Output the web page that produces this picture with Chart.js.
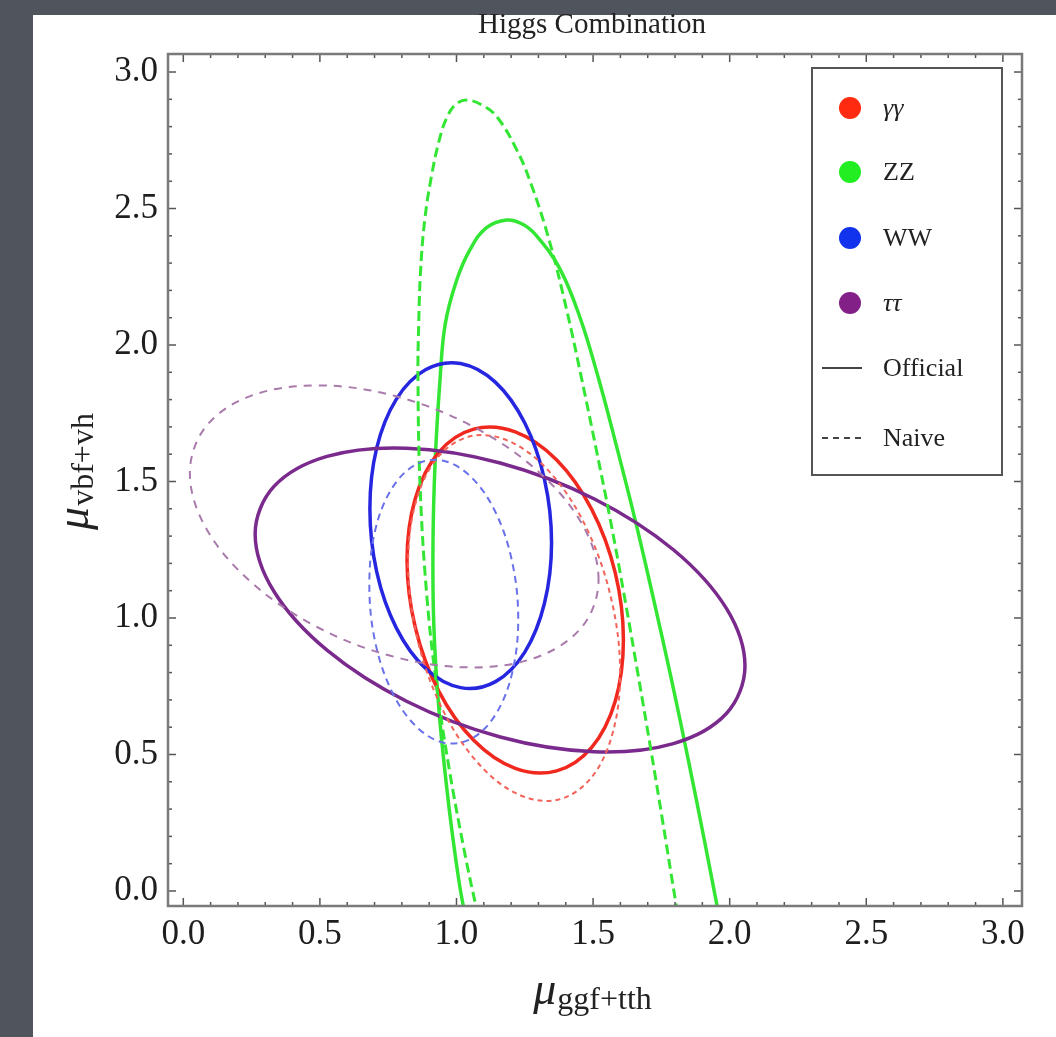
<!DOCTYPE html>
<html>
<head>
<meta charset="utf-8">
<title>Higgs Combination</title>
<script src="https://cdn.jsdelivr.net/npm/chart.js@4.4.1/dist/chart.umd.min.js"></script>
<style>
  html, body { margin: 0; padding: 0; background: #50545c; }
  #wrap { width: 1056px; height: 1037px; }
</style>
</head>
<body>
<div id="wrap"><canvas id="chart" width="1056" height="1037"></canvas></div>
<script>
// frame range (Mathematica pads a bit past 0 and 3)
const xRange = [-0.056, 3.07];
const yRange = [-0.055, 3.066];
const tickLabels = ['0.0', '0.5', '1.0', '1.5', '2.0', '2.5', '3.0'];
const legendLabels = ['γγ', 'ZZ', 'WW', 'ττ', 'Official', 'Naive'];

// contours as [mu_ggf+tth, mu_vbf+vh]
const zzNaive = [[1.105,-0.2],[1.07,-0.05],[1.028,0.15],[0.972,0.455],[0.926,0.762],[0.892,1.074],[0.867,1.476],[0.859,1.877],[0.862,2.09],[0.869,2.28],[0.884,2.46],[0.908,2.616],[0.937,2.751],[0.966,2.836],[0.999,2.883],[1.04,2.897],[1.095,2.878],[1.148,2.836],[1.221,2.714],[1.273,2.59],[1.341,2.378],[1.403,2.13],[1.458,1.877],[1.511,1.62],[1.564,1.355],[1.618,1.06],[1.668,0.773],[1.711,0.52],[1.752,0.272],[1.804,-0.05],[1.83,-0.2]];
const zzOfficial = [[1.06,-0.2],[1.024,-0.05],[0.998,0.112],[0.965,0.372],[0.935,0.673],[0.917,0.974],[0.914,1.275],[0.922,1.576],[0.94,1.877],[0.959,2.078],[1.001,2.238],[1.05,2.35],[1.11,2.43],[1.184,2.458],[1.241,2.443],[1.294,2.399],[1.379,2.278],[1.453,2.098],[1.52,1.877],[1.584,1.636],[1.655,1.355],[1.72,1.075],[1.787,0.774],[1.85,0.473],[1.91,0.172],[1.953,-0.05],[1.985,-0.216]];
const aaOfficial = [[1.611,0.919],[1.581,1.166],[1.495,1.398],[1.367,1.579],[1.215,1.682],[1.063,1.692],[0.934,1.606],[0.849,1.437],[0.819,1.212],[0.849,0.966],[0.934,0.734],[1.063,0.552],[1.215,0.449],[1.367,0.44],[1.495,0.526],[1.581,0.695]];
const aaNaive = [[1.599,0.799],[1.569,1.059],[1.485,1.31],[1.36,1.513],[1.211,1.639],[1.063,1.668],[0.937,1.595],[0.853,1.431],[0.823,1.201],[0.853,0.941],[0.937,0.69],[1.063,0.487],[1.211,0.361],[1.36,0.332],[1.485,0.405],[1.569,0.569]];
const wwOfficial = [[1.348,1.276],[1.322,1.508],[1.25,1.714],[1.143,1.863],[1.015,1.932],[0.888,1.91],[0.78,1.802],[0.708,1.623],[0.683,1.401],[0.708,1.169],[0.78,0.963],[0.888,0.814],[1.015,0.745],[1.143,0.767],[1.25,0.875],[1.322,1.054]];
const wwNaive = [[1.226,0.997],[1.205,1.2],[1.146,1.381],[1.057,1.513],[0.953,1.576],[0.849,1.561],[0.76,1.469],[0.701,1.315],[0.681,1.122],[0.701,0.919],[0.76,0.738],[0.849,0.606],[0.953,0.543],[1.057,0.559],[1.146,0.651],[1.205,0.804]];
const ttOfficial = [[2.056,0.824],[1.988,1.035],[1.794,1.25],[1.503,1.437],[1.16,1.568],[0.817,1.622],[0.526,1.592],[0.332,1.482],[0.263,1.308],[0.332,1.097],[0.526,0.882],[0.817,0.695],[1.16,0.564],[1.503,0.51],[1.794,0.54],[1.988,0.65]];
const ttNaive = [[1.52,1.14],[1.463,1.338],[1.301,1.535],[1.059,1.702],[0.772,1.814],[0.486,1.852],[0.243,1.812],[0.081,1.699],[0.024,1.531],[0.081,1.333],[0.243,1.136],[0.486,0.969],[0.772,0.858],[1.059,0.819],[1.301,0.859],[1.463,0.972]];

const RED = '#f0281e', GREEN = '#33e633', BLUE = '#2626e0', PURPLE = '#7a2a8c';
const SERIF = "'Liberation Serif', 'Times New Roman', serif";

// closed loops: wrap one point each side and hide the two wrap segments
function curve(pts, color, width, dash, closed) {
  let data = pts.map(([x, y]) => ({ x, y }));
  const n = data.length;
  if (closed) data = [data[n - 1], ...data, data[0], data[1]];
  return {
    data,
    borderColor: color,
    borderWidth: width,
    borderDash: dash,
    showLine: true,
    pointRadius: 0,
    tension: closed ? 0.35 : 0.4,
    segment: closed ? {
      borderColor: ctx => (ctx.p0DataIndex === 0 || ctx.p0DataIndex === n + 1) ? 'rgba(0,0,0,0)' : undefined
    } : {}
  };
}

const datasets = [
  curve(ttNaive, '#a97aab', 2, [8, 7], true),
  curve(wwNaive, '#6a72ea', 2, [7, 5], true),
  curve(aaNaive, '#f2645a', 2, [5, 4], true),
  curve(zzNaive, GREEN, 3, [10, 5], false),
  curve(ttOfficial, PURPLE, 3.5, [], true),
  curve(wwOfficial, BLUE, 3.5, [], true),
  curve(aaOfficial, RED, 3.5, [], true),
  curve(zzOfficial, GREEN, 3.5, [], false),
];

function line(c, x1, y1, x2, y2) {
  c.beginPath(); c.moveTo(x1, y1); c.lineTo(x2, y2); c.stroke();
}

function subText(c, x, y, main, sub, mainSize, subSize, drop) {
  c.font = `italic ${mainSize}px ${SERIF}`;
  const wm = c.measureText(main).width;
  c.font = `${subSize}px ${SERIF}`;
  const ws = c.measureText(sub).width;
  const x0 = x - (wm + ws) / 2;
  c.font = `italic ${mainSize}px ${SERIF}`;
  c.fillText(main, x0, y);
  c.font = `${subSize}px ${SERIF}`;
  c.fillText(sub, x0 + wm + 1, y + drop);
}

const decor = {
  id: 'decor',
  beforeDraw(chart) {
    const c = chart.ctx;
    c.save();
    c.fillStyle = '#50545c';
    c.fillRect(0, 0, chart.width, chart.height);
    c.fillStyle = '#ffffff';
    c.fillRect(33, 15, chart.width - 33, chart.height - 15);
    c.restore();
  },
  afterDatasetsDraw(chart) {
    const c = chart.ctx;
    const { left, right, top, bottom } = chart.chartArea;
    const xs = chart.scales.x, ys = chart.scales.y;
    c.save();

    // frame + inward ticks on all four sides
    c.strokeStyle = '#555';
    c.lineWidth = 1.5;
    for (let i = 0; i <= 30; i++) {
      const len = i % 5 === 0 ? 8 : 4;
      const px = xs.getPixelForValue(i / 10);
      const py = ys.getPixelForValue(i / 10);
      line(c, px, bottom, px, bottom - len);
      line(c, px, top, px, top + len);
      line(c, left, py, left + len, py);
      line(c, right, py, right - len, py);
    }
    c.strokeStyle = '#7a7a7a';
    c.lineWidth = 2.5;
    c.strokeRect(left, top, right - left, bottom - top);

    // legend
    const bx = 812, by = 68, bw = 190, bh = 407;
    c.fillStyle = '#fff';
    c.fillRect(bx, by, bw, bh);
    c.strokeStyle = '#555';
    c.lineWidth = 2;
    c.strokeRect(bx, by, bw, bh);
    const rowY = [108, 172, 238, 303, 368, 438];
    const dots = ['#ff2a10', '#22ee22', '#1233ee', '#822088'];
    c.textBaseline = 'middle';
    c.textAlign = 'left';
    legendLabels.forEach((lab, i) => {
      const y = rowY[i];
      if (i < 4) {
        c.fillStyle = dots[i];
        c.beginPath(); c.arc(850, y, 11, 0, Math.PI * 2); c.fill();
      } else {
        c.strokeStyle = '#444';
        c.lineWidth = 2;
        c.setLineDash(i === 5 ? [6, 5] : []);
        line(c, 822, y, 862, y);
        c.setLineDash([]);
      }
      const italic = lab === 'γγ' || lab === 'ττ';
      c.font = `${italic ? 'italic ' : ''}26px ${SERIF}`;
      c.fillStyle = '#222';
      c.fillText(lab, 883, y + 1);
    });

    // title and axis titles
    c.fillStyle = '#222';
    c.textBaseline = 'alphabetic';
    c.textAlign = 'center';
    c.font = `29px ${SERIF}`;
    c.fillText('Higgs Combination', 592, 33);
    c.textAlign = 'left';
    subText(c, 592, 1004, 'μ', 'ggf+tth', 46, 32, 5);
    c.translate(88, 472);
    c.rotate(-Math.PI / 2);
    subText(c, 0, 0, 'μ', 'vbf+vh', 46, 32, 5);
    c.restore();
  }
};

const tickFont = { family: SERIF, size: 35 };

new Chart(document.getElementById('chart'), {
  type: 'scatter',
  data: { datasets },
  options: {
    responsive: false,
    animation: false,
    devicePixelRatio: 1,
    layout: { padding: { left: 0, top: 54, right: 34, bottom: 0 } },
    plugins: { legend: { display: false }, tooltip: { enabled: false } },
    elements: { line: { capBezierPoints: false } },
    scales: {
      x: {
        type: 'linear', min: xRange[0], max: xRange[1],
        border: { display: false },
        grid: { display: false, drawTicks: false },
        ticks: {
          stepSize: 0.5, includeBounds: false, autoSkip: false, maxRotation: 0,
          padding: 8, color: '#1e1e1e', font: tickFont,
          callback: (v, i) => tickLabels[i] ?? ''
        },
        afterFit: s => { s.height = 131; }
      },
      y: {
        type: 'linear', min: yRange[0], max: yRange[1],
        border: { display: false },
        grid: { display: false, drawTicks: false },
        ticks: {
          stepSize: 0.5, includeBounds: false, autoSkip: false,
          padding: 10, color: '#1e1e1e', font: tickFont,
          callback: (v, i) => tickLabels[i] ?? ''
        },
        afterFit: s => { s.width = 168; }
      }
    }
  },
  plugins: [decor]
});
</script>
</body>
</html>
